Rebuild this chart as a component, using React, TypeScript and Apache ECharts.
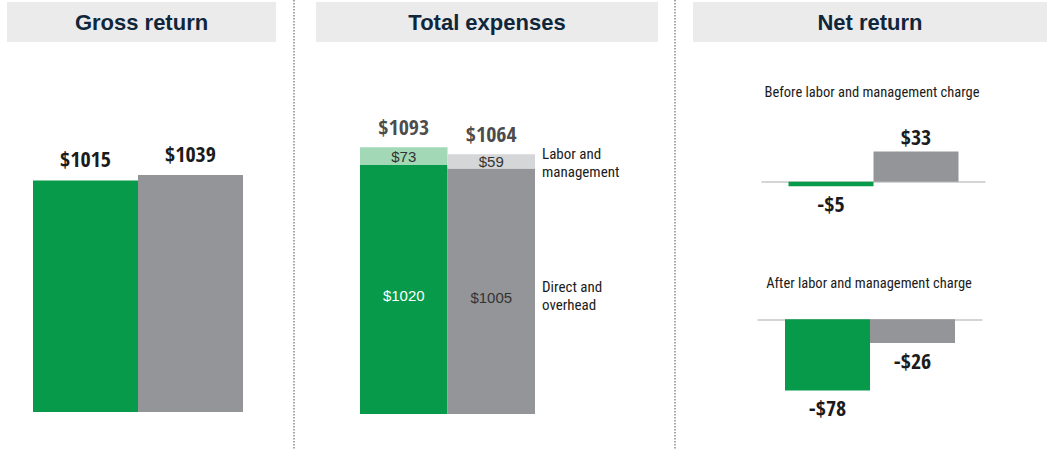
import React, { useEffect, useRef } from "react";
import * as echarts from "echarts";

// ---- data ----
const categories = ["Group A", "Group B"];
const grossReturn = [1015, 1039];
const directOverhead = [1020, 1005];
const laborManagement = [73, 59];
const netBefore = [-5, 33];
const netAfter = [-78, -26];
const panelTitles = ["Gross return", "Total expenses", "Net return"];
const netSubtitles = ["Before labor and management charge", "After labor and management charge"];
const componentLabels = ["Labor and\nmanagement", "Direct and\noverhead"];

// ---- styles ----
const GREEN = "#079a4a";
const GRAY = "#939598";
const LIGHT_GREEN = "#a2d8b6";
const LIGHT_GRAY = "#d5d6d8";
const HEAVY = "'Open Sans Condensed', 'Roboto Condensed', 'DejaVu Sans Condensed', sans-serif";
const NARROW = "'Roboto Condensed', 'DejaVu Sans Condensed', sans-serif";
const SANS = "'Liberation Sans', Arial, sans-serif";
const baseColors = [GREEN, GRAY];
const lightColors = [LIGHT_GREEN, LIGHT_GRAY];

const money = (v: number) => (v < 0 ? "-$" : "$") + Math.abs(v);

const bigLabel = {
  show: true,
  fontFamily: HEAVY,
  fontWeight: 800 as any,
  fontSize: 22,
  color: "#1b1b1b",
};

export default function App() {
  const ref = useRef<HTMLDivElement>(null);

  useEffect(() => {
    if (!ref.current) return;
    const chart = echarts.init(ref.current, null, { renderer: "svg" });

    const totals = directOverhead.map((d, i) => d + laborManagement[i]);

    const hiddenCat = (gridIndex: number, data: string[]) => ({
      type: "category" as const,
      gridIndex,
      data,
      axisLine: { show: false },
      axisTick: { show: false },
      axisLabel: { show: false },
    });
    const hiddenVal = (gridIndex: number, min: number, max: number) => ({
      type: "value" as const,
      gridIndex,
      min,
      max,
      axisLine: { show: false },
      axisTick: { show: false },
      axisLabel: { show: false },
      splitLine: { show: false },
    });
    const zeroCat = (gridIndex: number, data: string[]) => ({
      type: "category" as const,
      gridIndex,
      data,
      axisLine: { show: true, onZero: true, lineStyle: { color: "#c8c8c8", width: 1.5 } },
      axisTick: { show: false },
      axisLabel: { show: false },
    });

    const netSeries = (values: number[], axisIndex: number) =>
      values.map((v, i) => ({
        type: "bar" as const,
        name: categories[i],
        xAxisIndex: axisIndex,
        yAxisIndex: axisIndex,
        barWidth: 85,
        barGap: "0%",
        itemStyle: { color: baseColors[i] },
        label: {
          ...bigLabel,
          position: v < 0 ? "bottom" : "top",
          distance: v < 0 ? 6 : 5,
          formatter: (p: any) => money(p.value),
        },
        data: [v],
      }));

    const headerBoxes = [
      { x: 7, w: 269 },
      { x: 316, w: 342 },
      { x: 693, w: 354 },
    ];

    const graphic: any[] = [];
    headerBoxes.forEach((b, i) => {
      graphic.push({
        type: "rect",
        shape: { x: b.x, y: 2, width: b.w, height: 40 },
        style: { fill: "#ebebeb" },
        silent: true,
      });
      graphic.push({
        type: "text",
        x: b.x + b.w / 2,
        y: 22,
        style: {
          text: panelTitles[i],
          fill: "#10263a",
          font: `bold 22px ${SANS}`,
          textAlign: "center",
          textVerticalAlign: "middle",
        },
      });
    });
    [294, 675].forEach((x) => {
      graphic.push({
        type: "line",
        shape: { x1: x, y1: 0, x2: x, y2: 450 },
        style: { stroke: "#8a8a8a", lineWidth: 1.5, lineDash: [1.5, 1.5] },
      });
    });
    [
      { x: 872, y: 92 },
      { x: 869, y: 283 },
    ].forEach((p, i) => {
      graphic.push({
        type: "text",
        x: p.x,
        y: p.y,
        style: {
          text: netSubtitles[i],
          fill: "#1b1b1b",
          font: `14.5px ${NARROW}`,
          textAlign: "center",
          textVerticalAlign: "middle",
        },
      });
    });
    [
      { x: 542, y: 163 },
      { x: 542, y: 296 },
    ].forEach((p, i) => {
      graphic.push({
        type: "text",
        x: p.x,
        y: p.y,
        style: {
          text: componentLabels[i],
          fill: "#1b1b1b",
          font: `15px ${NARROW}`,
          lineHeight: 18,
          textAlign: "left",
          textVerticalAlign: "middle",
        },
      });
    });

    chart.setOption({
      animation: false,
      backgroundColor: "#ffffff",
      grid: [
        { left: 33, top: 161, width: 210, height: 251 },
        { left: 360, top: 121, width: 175, height: 293 },
        { left: 762, top: 136, width: 223, height: 73 },
        { left: 758, top: 301, width: 224, height: 109.5 },
      ],
      xAxis: [
        hiddenCat(0, categories),
        hiddenCat(1, categories),
        zeroCat(2, ["Before"]),
        zeroCat(3, ["After"]),
      ],
      yAxis: [
        hiddenVal(0, 0, 1100),
        hiddenVal(1, 0, 1200),
        hiddenVal(2, -30, 50),
        hiddenVal(3, -100, 20),
      ],
      graphic,
      series: [
        {
          type: "bar",
          name: "Gross return",
          xAxisIndex: 0,
          yAxisIndex: 0,
          barCategoryGap: "0%",
          label: { ...bigLabel, position: "top", distance: 11, formatter: (p: any) => money(p.value) },
          data: grossReturn.map((v, i) => ({ value: v, itemStyle: { color: baseColors[i] } })),
        },
        {
          type: "bar",
          name: "Direct and overhead",
          xAxisIndex: 1,
          yAxisIndex: 1,
          stack: "exp",
          barCategoryGap: "0%",
          label: {
            show: true,
            position: "inside",
            offset: [0, 6],
            fontFamily: SANS,
            fontSize: 15,
            formatter: (p: any) => money(p.value),
          },
          data: directOverhead.map((v, i) => ({
            value: v,
            itemStyle: { color: baseColors[i] },
            label: { color: i === 0 ? "#ffffff" : "#333333" },
          })),
        },
        {
          type: "bar",
          name: "Labor and management",
          xAxisIndex: 1,
          yAxisIndex: 1,
          stack: "exp",
          barCategoryGap: "0%",
          label: {
            show: true,
            position: "inside",
            fontFamily: SANS,
            fontSize: 15,
            color: "#333333",
            formatter: (p: any) => money(p.value),
          },
          data: laborManagement.map((v, i) => ({ value: v, itemStyle: { color: lightColors[i] } })),
        },
        {
          type: "scatter",
          name: "Total expenses",
          xAxisIndex: 1,
          yAxisIndex: 1,
          symbolSize: 0,
          label: { ...bigLabel, position: "top", distance: 10, formatter: (p: any) => money(p.value) },
          data: totals,
        },
        ...netSeries(netBefore, 2),
        ...netSeries(netAfter, 3),
      ],
    });

    return () => chart.dispose();
  }, []);

  return (
    <div
      ref={ref}
      style={{ position: "fixed", left: 0, top: 0, width: 1047, height: 450 }}
    />
  );
}
